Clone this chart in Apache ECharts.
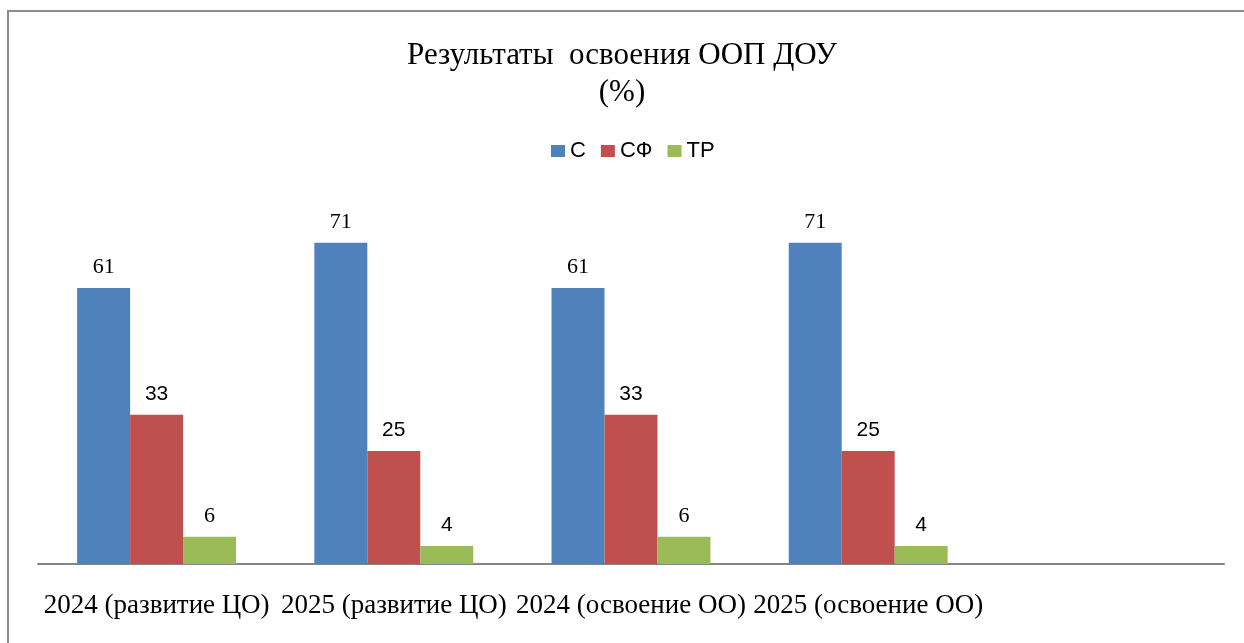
<!DOCTYPE html>
<html><head><meta charset="utf-8">
<script src="https://cdn.jsdelivr.net/npm/echarts@6/dist/echarts.min.js"></script>
<style>html,body{margin:0;padding:0;background:#fff}#c{width:1244px;height:643px}</style>
</head><body><div id="c"></div>
<script>
const titleLines = ['Результаты  освоения ООП ДОУ', '(%)'];
const categories = ['2024 (развитие ЦО)', '2025 (развитие ЦО)', '2024 (освоение ОО)', '2025 (освоение ОО)', ''];
const seriesNames = ['С', 'СФ', 'ТР'];
const valuesC = [61, 71, 61, 71];
const valuesSF = [33, 25, 33, 25];
const valuesTR = [6, 4, 6, 4];
// label font per point (serif or sans) as seen in the reference
const labelFontC = ['r', 'r', 'r', 'r'];
const labelFontSF = ['s', 's', 's', 's'];
const labelFontTR = ['r', 's', 'r', 's'];
const colors = ['#4F81BD', '#C0504D', '#9BBB59'];

const serif = '"Liberation Serif", "Times New Roman", serif';
const sans = '"Liberation Sans", Arial, sans-serif';

function mkSeries(name, vals, fonts, color) {
  return {
    name, type: 'bar', data: vals, barGap: '0%', barCategoryGap: '33%',
    itemStyle: { color },
    label: {
      show: true, position: 'top', distance: 10,
      formatter: p => '{' + fonts[p.dataIndex] + '|' + p.value + '}',
      rich: {
        r: { fontFamily: serif, fontSize: 22, color: '#000' },
        s: { fontFamily: sans, fontSize: 21, color: '#000' }
      }
    }
  };
}

const chart = echarts.init(document.getElementById('c'), null, { renderer: 'canvas' });
chart.setOption({
  animation: false,
  backgroundColor: '#fff',
  title: {
    text: titleLines.join('\n'), left: 'center', top: 32,
    textStyle: { fontFamily: serif, fontSize: 31, fontWeight: 'normal', color: '#000', lineHeight: 37, align: 'center' }
  },
  legend: {
    data: seriesNames, left: 546, top: 135, itemWidth: 14, itemHeight: 12, itemGap: 15,
    icon: 'rect',
    textStyle: { fontFamily: sans, fontSize: 22, color: '#000' }
  },
  grid: { left: 38, right: 20, top: 202, bottom: 79, containLabel: false },
  xAxis: {
    type: 'category', data: categories,
    axisLine: { lineStyle: { color: '#868686', width: 2 } },
    axisTick: { show: false },
    axisLabel: { interval: 0, fontFamily: serif, fontSize: 27, color: '#000', margin: 28 }
  },
  yAxis: {
    type: 'value', min: 0, max: 80, show: false, splitLine: { show: false }
  },
  graphic: [{
    type: 'polyline', silent: true,
    shape: { points: [[8, 643], [8, 11], [1244, 11]] },
    style: { stroke: '#8c8c8c', lineWidth: 2, fill: null }
  }],
  series: [
    mkSeries(seriesNames[0], valuesC, labelFontC, colors[0]),
    mkSeries(seriesNames[1], valuesSF, labelFontSF, colors[1]),
    mkSeries(seriesNames[2], valuesTR, labelFontTR, colors[2])
  ]
});
</script></body></html>
